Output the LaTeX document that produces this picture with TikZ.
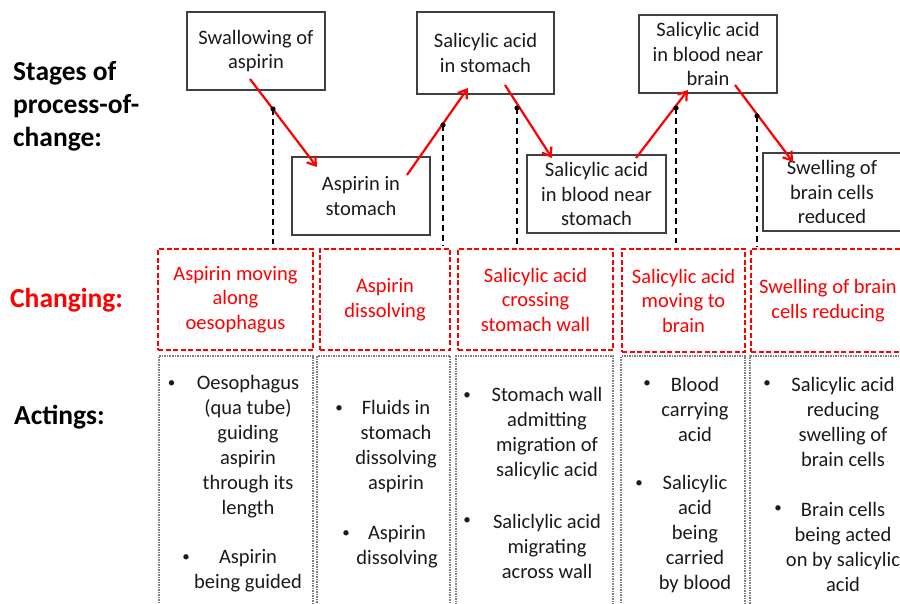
\documentclass[tikz,border=0pt]{standalone}
\usepackage{fontspec}
\setmainfont{Carlito}
\usetikzlibrary{arrows.meta}
\definecolor{boxgray}{HTML}{404040}
\definecolor{dotgray}{HTML}{7F7F7F}
\definecolor{myred}{HTML}{FF0000}
\definecolor{inkblack}{HTML}{1A1A1A}
\begin{document}
\begin{tikzpicture}[x=1pt,y=-1pt,
  stagebox/.style={draw=boxgray,line width=1.2pt,align=center,inner sep=0pt,text=inkblack,
    font=\fontsize{20.5}{24.5}\selectfont},
  changebox/.style={draw=myred,dash pattern=on 5pt off 2.5pt,line width=1.5pt,
    text=myred,align=center,inner sep=0pt,font=\fontsize{20.5}{24.5}\selectfont},
  actbox/.style={draw=dotgray,dash pattern=on 1.5pt off 1pt,line width=1.3pt,inner sep=0pt},
  acttext/.style={align=center,inner sep=0pt,text=inkblack,font=\fontsize{20.5}{25}\selectfont},
  bulletnode/.style={inner sep=0pt,text=inkblack,font=\fontsize{15}{18}\selectfont},
  rowlabel/.style={anchor=west,align=left,inner sep=0pt,
    font=\fontsize{27.5}{33}\selectfont\bfseries},
  redarrow/.style={draw=myred,line width=2.2pt,-{Straight Barb[length=8pt,width=11pt]}},
  droplink/.style={draw=black,line width=1.5pt,dash pattern=on 6pt off 4pt},
  dotmark/.style={fill=black}
]
\useasboundingbox (0,0) rectangle (900,604);
\clip (0,0) rectangle (900,604);

% row labels
\node[rowlabel] (lstage) at (13,106) {Stages of\\process-of-\\change:};
\node[rowlabel,text=myred] (lchange) at (10,300) {Changing:};
\node[rowlabel] (lact) at (14,417) {Actings:};

% stages
\node[stagebox,minimum width=138pt,minimum height=78pt] (s1) at (256,51) {Swallowing of\\aspirin};
\node[stagebox,minimum width=138pt,minimum height=78pt] (s2) at (361,196) {Aspirin in\\stomach};
\node[stagebox,minimum width=137pt,minimum height=82pt] (s3) at (485.5,53) {Salicylic acid\\in stomach};
\node[stagebox,minimum width=139pt,minimum height=78pt] (s4) at (596.5,194) {Salicylic acid\\in blood near\\stomach};
\node[stagebox,minimum width=138pt,minimum height=78pt] (s5) at (708,54) {Salicylic acid\\in blood near\\brain};
\node[stagebox,minimum width=138pt,minimum height=78pt] (s6) at (832,192) {Swelling of\\brain cells\\reduced};

% changing
\node[changebox,minimum width=155pt,minimum height=101pt] (r1) at (235.5,299.5) {Aspirin moving\\along\\oesophagus};
\node[changebox,minimum width=130pt,minimum height=101pt] (r2) at (385,299.5) {Aspirin\\dissolving};
\node[changebox,minimum width=155pt,minimum height=101pt] (r3) at (535.5,299.5) {Salicylic acid\\crossing\\stomach wall};
\node[changebox,minimum width=123pt,minimum height=103pt] (r4) at (683.5,300.5) {Salicylic acid\\moving to\\brain};
\node[changebox,minimum width=154pt,minimum height=103pt] (r5) at (828,300.5) {Swelling of brain\\cells reducing};

% acting boxes
\node[actbox,minimum width=154pt,minimum height=264pt] (g1) at (236,488) {};
\node[actbox,minimum width=133pt,minimum height=264pt] (g2) at (383.5,488) {};
\node[actbox,minimum width=157pt,minimum height=264pt] (g3) at (534.5,488) {};
\node[actbox,minimum width=124pt,minimum height=264pt] (g4) at (683,488) {};
\node[actbox,minimum width=155pt,minimum height=264pt] (g5) at (827.5,488) {};

% acting texts
\node[acttext] (t1a) at (248,446.5) {Oesophagus\\(qua tube)\\guiding\\aspirin\\through its\\length};
\node[acttext] (t1b) at (248,570.5) {Aspirin\\being guided};
\node[acttext] (t2a) at (396,446.5) {Fluids in\\stomach\\dissolving\\aspirin};
\node[acttext] (t2b) at (397,546.5) {Aspirin\\dissolving};
\node[acttext] (t3a) at (547,433.5) {Stomach wall\\admitting\\migration of\\salicylic acid};
\node[acttext] (t3b) at (547,546) {Saliclylic acid\\migrating\\across wall};
\node[acttext] (t4a) at (695,409) {Blood\\carrying\\acid};
\node[acttext] (t4b) at (695,534) {Salicylic\\acid\\being\\carried\\by blood};
\node[acttext] (t5a) at (843,421.5) {Salicylic acid\\reducing\\swelling of\\brain cells};
\node[acttext] (t5b) at (843,546.5) {Brain cells\\being acted\\on by salicylic\\acid};

% bullets
\node[bulletnode] (b1a) at (171.5,384) {•};
\node[bulletnode] (b1b) at (186,558) {•};
\node[bulletnode] (b2a) at (339,409) {•};
\node[bulletnode] (b2b) at (346,534) {•};
\node[bulletnode] (b3a) at (467,396) {•};
\node[bulletnode] (b3b) at (467,521) {•};
\node[bulletnode] (b4a) at (647,384) {•};
\node[bulletnode] (b4b) at (639,484) {•};
\node[bulletnode] (b5a) at (767,384) {•};
\node[bulletnode] (b5b) at (778,509) {•};

% arrow end points
\coordinate (a1s) at (250,79);  \coordinate (a1e) at (317,167);
\coordinate (a2s) at (407,175); \coordinate (a2e) at (468,88);
\coordinate (a3s) at (505,85);  \coordinate (a3e) at (552,158);
\coordinate (a4s) at (636,158); \coordinate (a4e) at (688,90);
\coordinate (a5s) at (735,85);  \coordinate (a5e) at (793,162);

% drop points
\coordinate (d1) at (273,109);
\coordinate (d2) at (443,125);
\coordinate (d3) at (517,108);
\coordinate (d4) at (676,108);
\coordinate (d5) at (757,116);

% dashed drop lines
\draw[droplink] (d1) -- ([yshift=4pt]d1 |- r1.north);
\draw[droplink] (d2) -- ([yshift=2pt]d2 |- r2.north);
\draw[droplink] (d3) -- ([yshift=2pt]d3 |- r3.north);
\draw[droplink] (d4) -- ([yshift=5pt]d4 |- r4.north);
\draw[droplink] (d5) -- ([yshift=2pt]d5 |- r5.north);

% red arrows
\draw[redarrow] (a1s) -- (a1e);
\draw[redarrow] (a2s) -- (a2e);
\draw[redarrow] (a3s) -- (a3e);
\draw[redarrow] (a4s) -- (a4e);
\draw[redarrow] (a5s) -- (a5e);

% dots
\foreach \d in {d1,d2,d3,d4,d5} \fill[dotmark] (\d) circle (2.6pt);
\end{tikzpicture}
\end{document}
